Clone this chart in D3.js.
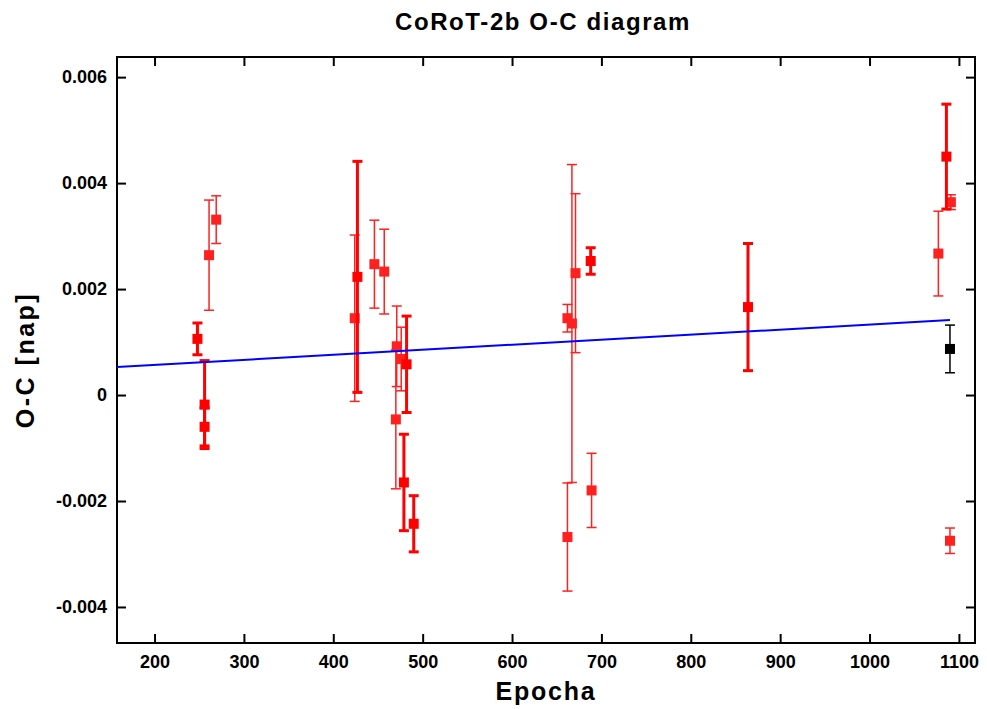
<!DOCTYPE html>
<html lang="en">
<head>
<meta charset="UTF-8">
<title>CoRoT-2b O-C diagram</title>
<script src="https://cdn.jsdelivr.net/npm/d3@7"></script>
<style>
  body { margin: 0; background: #fff; }
  svg { display: block; font-family: "Liberation Sans", Arial, sans-serif; }
</style>
</head>
<body>
<svg width="987" height="709"></svg>
<script>
// thick red points (epoch, O-C, error)
var thickEpoch = [248, 256, 256, 427, 479, 482, 490, 688, 864, 1086];
var thickOC    = [0.00106, -0.00018, -0.00060, 0.00223, -0.00165, 0.00058, -0.00243, 0.00253, 0.00166, 0.00450];
var thickErr   = [0.00030, 0.00083, 0.00036, 0.00218, 0.00091, 0.00091, 0.00053, 0.00025, 0.00120, 0.00099];

// thin red points
var thinEpoch = [261, 269, 424, 446, 457, 470, 471, 476, 662, 662, 667, 671, 689, 1077, 1091, 1090];
var thinOC    = [0.00264, 0.00331, 0.00145, 0.00247, 0.00233, -0.00046, 0.00092, 0.00068, 0.00145, -0.00268, 0.00135, 0.00230, -0.00180, 0.00267, 0.00364, -0.00275];
var thinErr   = [0.00104, 0.00045, 0.00157, 0.00083, 0.00080, 0.00131, 0.00076, 0.00060, 0.00026, 0.00102, 0.00300, 0.00150, 0.00070, 0.00080, 0.00014, 0.00024];

// black point
var blackEpoch = [1090];
var blackOC    = [0.00087];
var blackErr   = [0.00045];

// linear fit
var fitEpoch = [158, 1090];
var fitOC    = [0.00053, 0.001415];

var xTicks = [200, 300, 400, 500, 600, 700, 800, 900, 1000, 1100];
var yTicks = [-0.004, -0.002, 0, 0.002, 0.004, 0.006];

var svg = d3.select("svg");
var m = {left: 117, right: 12, top: 57, bottom: 66};
var W = 987 - m.left - m.right, H = 709 - m.top - m.bottom;
var g = svg.append("g").attr("transform", "translate(" + m.left + "," + m.top + ")");

var x = d3.scaleLinear().domain([158, 1118]).range([0, W]);
var y = d3.scaleLinear().domain([-0.00468, 0.00638]).range([H, 0]);

function yfmt(d) { return d === 0 ? "0" : d.toFixed(3); }

function styleAxis(a) {
  a.select(".domain").remove();
  a.selectAll(".tick line").attr("stroke", "#000").attr("stroke-width", 2);
  a.selectAll("text").attr("fill", "#000").style("font-size", "18px").style("font-weight", "bold");
}

g.append("g").call(d3.axisLeft(y).tickValues(yTicks).tickFormat(yfmt).tickSize(-9).tickPadding(10)).call(styleAxis);
g.append("g").attr("transform", "translate(" + W + ",0)")
  .call(d3.axisRight(y).tickValues(yTicks).tickFormat("").tickSize(-9)).call(styleAxis);
g.append("g").attr("transform", "translate(0," + H + ")")
  .call(d3.axisBottom(x).tickValues(xTicks).tickFormat(d3.format("d")).tickSize(-9).tickPadding(12)).call(styleAxis);
g.append("g").call(d3.axisTop(x).tickValues(xTicks).tickFormat("").tickSize(-9)).call(styleAxis);

g.append("rect").attr("width", W).attr("height", H)
  .attr("fill", "none").attr("stroke", "#000").attr("stroke-width", 2);

function zip(e, v, s) { return e.map(function(d, i) { return {e: d, v: v[i], s: s[i]}; }); }

function drawSeries(data, color, lw, capW) {
  var s = g.append("g");
  var pts = s.selectAll("g").data(data).enter().append("g");
  pts.append("line")
    .attr("x1", function(d) { return x(d.e); }).attr("x2", function(d) { return x(d.e); })
    .attr("y1", function(d) { return y(d.v - d.s); }).attr("y2", function(d) { return y(d.v + d.s); })
    .attr("stroke", color).attr("stroke-width", lw);
  [-1, 1].forEach(function(k) {
    pts.append("line")
      .attr("x1", function(d) { return x(d.e) - capW / 2; }).attr("x2", function(d) { return x(d.e) + capW / 2; })
      .attr("y1", function(d) { return y(d.v + k * d.s); }).attr("y2", function(d) { return y(d.v + k * d.s); })
      .attr("stroke", color).attr("stroke-width", lw);
  });
  pts.append("rect")
    .attr("x", function(d) { return x(d.e) - 5; }).attr("y", function(d) { return y(d.v) - 5; })
    .attr("width", 10).attr("height", 10).attr("fill", color);
}

drawSeries(zip(thinEpoch, thinOC, thinErr), "#ff2020", 1.5, 10);
drawSeries(zip(thickEpoch, thickOC, thickErr), "#ff0000", 3, 10);

g.append("path")
  .datum(fitEpoch.map(function(d, i) { return [d, fitOC[i]]; }))
  .attr("d", d3.line().x(function(d) { return x(d[0]); }).y(function(d) { return y(d[1]); }))
  .attr("fill", "none").attr("stroke", "#0000ff").attr("stroke-width", 2);

drawSeries(zip(blackEpoch, blackOC, blackErr), "#000", 1.5, 10);

svg.append("text").attr("x", 543).attr("y", 30).attr("text-anchor", "middle")
  .style("font-size", "24px").style("font-weight", "bold").style("letter-spacing", "1.6px")
  .text("CoRoT-2b O-C diagram");

svg.append("text").attr("x", m.left + W / 2).attr("y", 700).attr("text-anchor", "middle")
  .style("font-size", "25px").style("font-weight", "bold").style("letter-spacing", "1.8px")
  .text("Epocha");

svg.append("text").attr("transform", "translate(34," + (m.top + H / 2 + 10) + ") rotate(-90)")
  .attr("text-anchor", "middle")
  .style("font-size", "25px").style("font-weight", "bold").style("letter-spacing", "2.5px")
  .text("O-C [nap]");
</script>
</body>
</html>
